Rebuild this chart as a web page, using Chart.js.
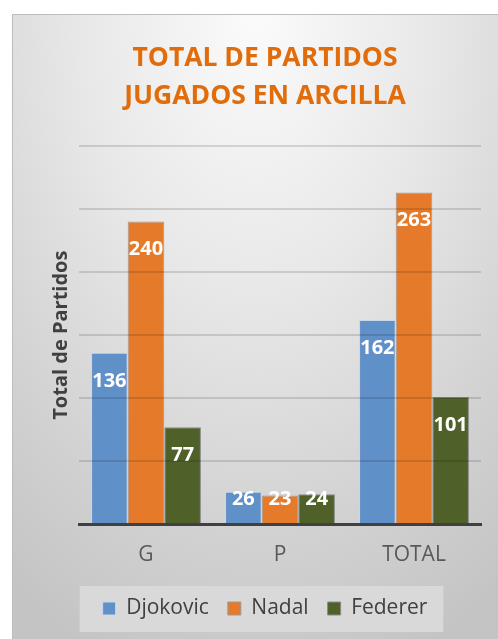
<!DOCTYPE html>
<html>
<head>
<meta charset="utf-8">
<script src="https://cdn.jsdelivr.net/npm/chart.js@4/dist/chart.umd.min.js"></script>
<style>
  html, body { margin: 0; padding: 0; background: #fff; }
  #frame {
    position: absolute; left: 12px; top: 14px; width: 486px; height: 625px;
    border-left: 1px solid #bdbdbd; border-top: 1px solid #bdbdbd;
    background: radial-gradient(ellipse 90% 110% at 50% 0%, #fbfbfb 0%, #e8e8e8 40%, #d2d2d2 75%, #c4c4c4 100%);
  }
  #chart { display: block; }
</style>
</head>
<body>
<div id="frame"><canvas id="chart" width="486" height="625"></canvas></div>
<script>
const categories = ['G', 'P', 'TOTAL'];
const djokovic = [136, 26, 162];
const nadal = [240, 23, 263];
const federer = [77, 24, 101];
const yTicks = [0, 50, 100, 150, 200, 250, 300];

// etiquetas blancas dentro del extremo de cada barra
const barLabels = {
    id: 'barLabels',
    afterDatasetsDraw(chart) {
        const ctx = chart.ctx;
        ctx.save();
        ctx.fillStyle = '#ffffff';
        ctx.font = "bold 20px 'Open Sans', sans-serif";
        ctx.textAlign = 'center';
        ctx.textBaseline = 'middle';
        chart.data.datasets.forEach((ds, i) => {
            chart.getDatasetMeta(i).data.forEach((bar, j) => {
                const y = Math.min(bar.y + 28, bar.base - 24);
                ctx.fillText(String(ds.data[j]), bar.x, y);
            });
        });
        ctx.restore();
    }
};

// fondo claro de la leyenda
const legendBox = {
    id: 'legendBox',
    beforeDraw(chart) {
        const boxes = chart.legend && chart.legend.legendHitBoxes;
        if (!boxes || !boxes.length) return;
        const first = boxes[0], last = boxes[boxes.length - 1];
        const ctx = chart.ctx;
        ctx.save();
        ctx.fillStyle = '#d9d9d9';
        ctx.fillRect(first.left - 23, first.top - 12, last.left + last.width - first.left + 39, first.height + 25);
        ctx.restore();
    }
};

const ctx = document.getElementById('chart').getContext('2d');
new Chart(ctx, {
    type: 'bar',
    data: {
        labels: categories,
        datasets: [
            { label: 'Djokovic', data: djokovic, backgroundColor: '#6090c8', borderColor: '#c9d7ea', borderWidth: 1 },
            { label: 'Nadal', data: nadal, backgroundColor: '#e57b2a', borderColor: '#9a9a9a', borderWidth: 1 },
            { label: 'Federer', data: federer, backgroundColor: '#4f6128', borderColor: '#8a8a8a', borderWidth: 1 }
        ]
    },
    options: {
        responsive: false,
        animation: false,
        layout: { padding: { left: 36, right: 18, top: 0, bottom: 11 } },
        barPercentage: 1,
        categoryPercentage: 0.82,
        plugins: {
            title: {
                display: true,
                text: ['TOTAL DE PARTIDOS', 'JUGADOS EN ARCILLA'],
                color: '#e36c0a',
                font: { family: "'Open Sans', sans-serif", size: 26.5, weight: 'bold', lineHeight: 1.45 },
                padding: { top: 24, bottom: 30 }
            },
            legend: {
                position: 'bottom',
                labels: {
                    color: '#404040',
                    font: { family: "'Open Sans', sans-serif", size: 21 },
                    boxWidth: 13,
                    boxHeight: 13,
                    padding: 19
                }
            },
            tooltip: { enabled: false }
        },
        scales: {
            x: {
                afterFit(scale) { scale.height = 54.5; },
                grid: { display: false, drawTicks: false },
                border: { display: true, color: '#404040', width: 3, z: 2 },
                ticks: {
                    color: '#595959',
                    font: { family: "'Open Sans', sans-serif", size: 21 },
                    padding: 18
                }
            },
            y: {
                min: 0,
                max: 300,
                afterBuildTicks(scale) {
                    scale.ticks = yTicks.map(v => ({ value: v }));
                },
                afterFit(scale) { scale.width = 30; },
                grid: { color: 'rgba(0,0,0,0.13)', lineWidth: 2, drawTicks: false, z: 1 },
                border: { display: false },
                ticks: { display: false },
                title: {
                    display: true,
                    text: 'Total de Partidos',
                    color: '#404040',
                    font: { family: "'Open Sans', sans-serif", size: 20, weight: 'bold' },
                    padding: 0
                }
            }
        }
    },
    plugins: [legendBox, barLabels]
});
</script>
</body>
</html>
